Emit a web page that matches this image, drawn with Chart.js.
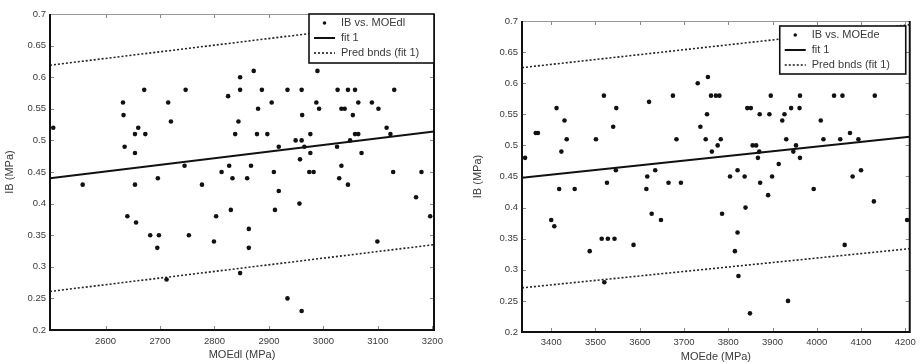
<!DOCTYPE html>
<html>
<head>
<meta charset="utf-8">
<script src="https://cdn.jsdelivr.net/npm/chart.js@4.4.0/dist/chart.umd.min.js"></script>
<style>
  body{margin:0;background:#fff;width:921px;height:364px;overflow:hidden;position:relative;}
  canvas{position:absolute;top:0;}
</style>
</head>
<body>
<canvas id="chartDl" width="460" height="364" style="left:0"></canvas>
<canvas id="chartDe" width="461" height="364" style="left:460px"></canvas>
<script>
// IB vs MOEdl (left panel)
const moeDl = [2504,2558,2632,2633,2635,2640,2654,2654,2654,2656,2660,2671,2673,2682,2695,2696,2698,2712,2715,2720,
  2745,2747,2753,2777,2799,2803,2813,2825,2827,2830,2833,2838,2844,2847,2847,2847,2860,2863,2863,2867,
  2872,2878,2880,2887,2897,2905,2909,2911,2918,2918,2934,2934,2949,2956,2957,2960,2960,2960,2961,2965,
  2974,2976,2976,2982,2987,2989,2992,3025,3026,3029,3033,3033,3039,3045,3045,3049,3054,3058,3058,3064,
  3064,3070,3089,3099,3101,3116,3123,3128,3130,3170,3180,3196];
const ibDl = [0.52,0.43,0.56,0.54,0.49,0.38,0.51,0.48,0.43,0.37,0.52,0.58,0.51,0.35,0.33,0.44,0.35,0.28,0.56,0.53,
  0.46,0.58,0.35,0.43,0.34,0.38,0.45,0.57,0.46,0.39,0.44,0.51,0.53,0.60,0.58,0.29,0.44,0.36,0.33,0.46,
  0.61,0.51,0.55,0.58,0.51,0.56,0.45,0.39,0.49,0.42,0.58,0.25,0.50,0.40,0.47,0.58,0.50,0.23,0.54,0.49,
  0.45,0.51,0.48,0.45,0.56,0.61,0.55,0.49,0.58,0.44,0.55,0.46,0.55,0.58,0.43,0.50,0.54,0.58,0.51,0.56,
  0.51,0.48,0.56,0.34,0.55,0.52,0.51,0.45,0.58,0.41,0.45,0.38];
const rangeDl = [2498, 3203];
const fitDl = [0.440, 0.514];
const upperDl = [0.619, 0.693];
const lowerDl = [0.261, 0.335];
const xTicksDl = [2600,2700,2800,2900,3000,3100,3200];

// IB vs MOEde (right panel)
const moeDe = [3341,3365,3370,3400,3407,3412,3418,3423,3430,3435,3453,3487,3501,3514,3519,3520,3526,3528,3540,3543,
  3546,3547,3586,3615,3617,3621,3627,3635,3648,3665,3675,3683,3693,3731,3737,3749,3752,3754,3761,3763,
  3772,3776,3780,3783,3786,3804,3815,3821,3821,3823,3837,3839,3843,3849,3851,3855,3863,3867,3870,3871,
  3872,3890,3893,3896,3899,3914,3922,3927,3931,3935,3942,3947,3953,3961,3962,3962,3993,4009,4015,4039,
  4053,4058,4063,4075,4081,4094,4100,4129,4131,4204];
const ibDe = [0.48,0.52,0.52,0.38,0.37,0.56,0.43,0.49,0.54,0.51,0.43,0.33,0.51,0.35,0.58,0.28,0.44,0.35,0.53,0.35,
  0.46,0.56,0.34,0.43,0.45,0.57,0.39,0.46,0.38,0.44,0.58,0.51,0.44,0.60,0.53,0.51,0.55,0.61,0.58,0.49,
  0.58,0.50,0.58,0.51,0.39,0.45,0.33,0.46,0.36,0.29,0.45,0.40,0.56,0.23,0.56,0.50,0.50,0.48,0.49,0.55,
  0.44,0.42,0.55,0.58,0.45,0.47,0.54,0.55,0.51,0.25,0.56,0.49,0.50,0.56,0.58,0.48,0.43,0.54,0.51,0.58,
  0.51,0.58,0.34,0.52,0.45,0.51,0.46,0.41,0.58,0.38];
const rangeDe = [3334, 4210];
const fitDe = [0.448, 0.514];
const upperDe = [0.625, 0.694];
const lowerDe = [0.271, 0.334];
const xTicksDe = [3400,3500,3600,3700,3800,3900,4000,4100,4200];

const yTicks = [0.2,0.25,0.3,0.35,0.4,0.45,0.5,0.55,0.6,0.65,0.7];

const FONT = "'Liberation Sans', Arial, sans-serif";
const TXT = '#3a3a3a';

function pts(xs, ys){ return xs.map((x,i)=>({x:x, y:ys[i]})); }

// box around plot with small inward ticks (matlab look)
const framePlugin = {
  id:'frame',
  afterDatasetsDraw(chart){
    const {ctx, chartArea:a, scales} = chart;
    ctx.save();
    ctx.strokeStyle = '#888'; ctx.lineWidth = 1;
    scales.x.ticks.forEach(t=>{
      const px = Math.round(scales.x.getPixelForValue(t.value))+0.5;
      ctx.beginPath(); ctx.moveTo(px,a.bottom); ctx.lineTo(px,a.bottom-4);
      ctx.moveTo(px,a.top); ctx.lineTo(px,a.top+4); ctx.stroke();
    });
    scales.y.ticks.forEach(t=>{
      const py = Math.round(scales.y.getPixelForValue(t.value))+0.5;
      ctx.beginPath(); ctx.moveTo(a.left,py); ctx.lineTo(a.left+4,py);
      ctx.moveTo(a.right,py); ctx.lineTo(a.right-4,py); ctx.stroke();
    });
    ctx.strokeStyle = '#999'; ctx.lineWidth = 1;
    ctx.beginPath(); ctx.moveTo(a.left,a.top+0.5); ctx.lineTo(a.right,a.top+0.5); ctx.stroke();
    ctx.strokeStyle = '#111'; ctx.lineWidth = 2;
    ctx.beginPath();
    ctx.moveTo(a.left,a.top); ctx.lineTo(a.left,a.bottom); ctx.lineTo(a.right,a.bottom); ctx.lineTo(a.right,a.top);
    ctx.stroke();
    ctx.restore();
  }
};

// legend box drawn inside the plot area
const boxLegend = {
  id:'boxLegend',
  afterDraw(chart, args, opts){
    const {ctx, chartArea:a} = chart;
    const w = opts.width, h = opts.height;
    const x0 = a.right - opts.right - w, y0 = a.top + opts.top;
    ctx.save();
    ctx.fillStyle = '#fff'; ctx.fillRect(x0,y0,w,h);
    ctx.strokeStyle = '#111'; ctx.lineWidth = 1.6; ctx.strokeRect(x0,y0,w,h);
    ctx.font = '11px ' + FONT; ctx.textBaseline = 'middle'; ctx.fillStyle = TXT;
    const items = chart.data.datasets.filter(d=>d.inLegend);
    items.forEach((d,i)=>{
      const cy = y0 + 9 + i*15;
      const sx = x0 + 5, ex = x0 + 26;
      if(d.showLine){
        ctx.strokeStyle = '#111'; ctx.lineWidth = d.borderWidth;
        ctx.setLineDash(d.borderDash || []);
        ctx.beginPath(); ctx.moveTo(sx,cy); ctx.lineTo(ex,cy); ctx.stroke();
        ctx.setLineDash([]);
      } else {
        ctx.fillStyle = '#111';
        ctx.beginPath(); ctx.arc((sx+ex)/2,cy,1.8,0,Math.PI*2); ctx.fill();
      }
      ctx.fillStyle = TXT;
      ctx.fillText(d.label, x0+32, cy);
    });
    ctx.restore();
  }
};

function makeChart(id, xs, ys, range, fit, upper, lower, xTicks, label, xTitle, cfg){
  const lineX = range;
  return new Chart(document.getElementById(id),{
    type:'scatter',
    data:{datasets:[
      {label:label, data:pts(xs,ys), inLegend:true, showLine:false,
        pointRadius:2.3, pointBackgroundColor:'#111', pointBorderWidth:0, order:0},
      {label:'fit 1', data:pts(lineX,fit), inLegend:true, showLine:true, borderColor:'#111',
        borderWidth:2, pointRadius:0, order:1},
      {label:'Pred bnds (fit 1)', data:pts(lineX,upper), inLegend:true, showLine:true, borderColor:'#222',
        borderWidth:1.6, borderDash:[2,2], pointRadius:0, order:2},
      {label:'lower', data:pts(lineX,lower), inLegend:false, showLine:true, borderColor:'#222',
        borderWidth:1.6, borderDash:[2,2], pointRadius:0, order:2}
    ]},
    options:{
      responsive:false, animation:false,
      layout:{padding:{top:cfg.top, right:cfg.right, left:0, bottom:0}},
      plugins:{legend:{display:false}, tooltip:{enabled:false},
        boxLegend:{width:cfg.lw, height:cfg.lh, right:cfg.lr, top:cfg.lt}},
      scales:{
        x:{type:'linear', min:range[0], max:range[1],
          grid:{display:false, drawTicks:false}, border:{display:false},
          afterBuildTicks:s=>{ s.ticks = xTicks.map(v=>({value:v})); },
          afterFit:s=>{ s.height = cfg.xh; },
          ticks:{font:{size:9.5, family:FONT}, color:TXT, padding:cfg.xpad, maxRotation:0, autoSkip:false,
            callback:v=>String(v)},
          title:{display:true, text:xTitle, font:{size:11, family:FONT}, color:TXT, padding:{top:0,bottom:cfg.xtb}}
        },
        y:{type:'linear', min:0.2, max:0.7,
          grid:{display:false, drawTicks:false}, border:{display:false},
          afterBuildTicks:s=>{ s.ticks = yTicks.map(v=>({value:v})); },
          afterFit:s=>{ s.width = cfg.yw; },
          ticks:{font:{size:9.5, family:FONT}, color:TXT, padding:4, autoSkip:false,
            callback:v=>String(v)},
          title:{display:true, text:'IB (MPa)', font:{size:11, family:FONT}, color:TXT, padding:{top:cfg.ytp,bottom:0}}
        }
      }
    },
    plugins:[framePlugin, boxLegend]
  });
}

makeChart('chartDl', moeDl, ibDl, rangeDl, fitDl, upperDl, lowerDl, xTicksDl, 'IB vs. MOEdl', 'MOEdl (MPa)',
  {top:14, right:26, xh:34, yw:50, xpad:6, xtb:2, ytp:3, lw:125, lh:49, lr:0, lt:0});
makeChart('chartDe', moeDe, ibDe, rangeDe, fitDe, upperDe, lowerDe, xTicksDe, 'IB vs. MOEde', 'MOEde (MPa)',
  {top:21, right:10, xh:32, yw:62, xpad:5, xtb:0, ytp:11, lw:126, lh:48, lr:4, lt:5});
</script>
</body>
</html>
